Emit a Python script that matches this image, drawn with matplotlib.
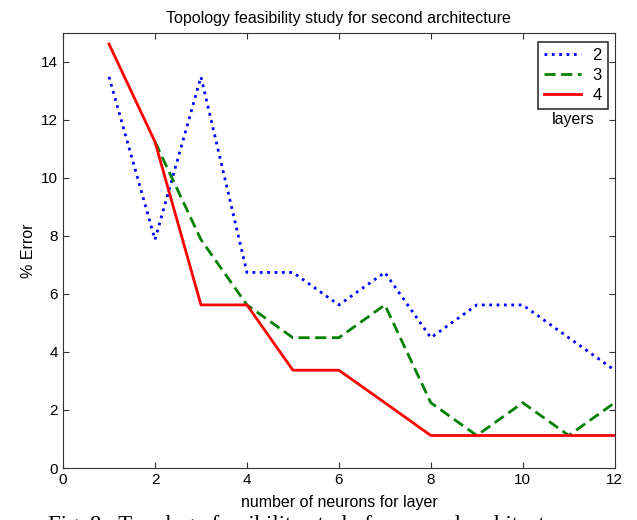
import numpy as np
import matplotlib
matplotlib.use("Agg")
import matplotlib.pyplot as plt

plt.rcParams['font.family'] = ['Liberation Sans', 'DejaVu Sans']

# % error per number of neurons, for 2, 3 and 4 layers
neurons_2 = [1, 2, 3, 4, 5, 6, 7, 8, 9, 10, 11, 12]
error_2 = [13.48, 7.87, 13.48, 6.74, 6.74, 5.62, 6.74, 4.49, 5.62, 5.62, 4.49, 3.37]
neurons_3 = [2, 3, 4, 5, 6, 7, 8, 9, 10, 11, 12]
error_3 = [11.24, 7.87, 5.62, 4.49, 4.49, 5.62, 2.25, 1.12, 2.25, 1.12, 2.25]
neurons_4 = [1, 2, 3, 4, 5, 6, 7, 8, 9, 10, 11, 12]
error_4 = [14.61, 11.24, 5.62, 5.62, 3.37, 3.37, 2.25, 1.12, 1.12, 1.12, 1.12, 1.12]

xticks = [0, 2, 4, 6, 8, 10, 12]
yticks = [0, 2, 4, 6, 8, 10, 12, 14]

fig = plt.figure(figsize=(6.37, 5.2), dpi=100)
ax = fig.add_axes([0.099, 0.1, 0.866, 0.837])

ax.plot(neurons_2, error_2, color="blue", linestyle=":", linewidth=2, label="2")
ax.plot(neurons_3, error_3, color="green", linestyle="--", linewidth=2, dashes=(4, 2), label="3")
ax.plot(neurons_4, error_4, color="red", linestyle="-", linewidth=2, label="4")

ax.set_xlim(0, 12)
ax.set_ylim(0, 15)
ax.set_xticks(xticks)
ax.set_yticks(yticks)
for s in ax.spines.values():
    s.set_color("#333333")
ax.tick_params(direction="in", top=True, right=True, labelsize=11, length=4, color="#333333")
ax.set_xlabel("number of neurons for layer", fontsize=11.5, labelpad=6)
ax.set_ylabel("% Error", fontsize=11.5, labelpad=4)
ax.set_title("Topology feasibility study for second architecture", fontsize=11.5, pad=7)

leg = ax.legend(loc="upper right", bbox_to_anchor=(0.987, 0.979), borderaxespad=0,
                fontsize=12, handlelength=2.2, fancybox=False, framealpha=1,
                edgecolor="#333333", borderpad=0.35, labelspacing=0.3, handletextpad=0.7)
leg.get_frame().set_linewidth(1.2)
ax.text(0.924, 0.8, "layers", transform=ax.transAxes, fontsize=11.5, ha="center", va="center")

fig.text(0.075, 1 - 515 / 520, "Fig. 8.  Topology feasibility study for second architecture",
         family=["Liberation Serif", "DejaVu Serif"], fontsize=16.5, va="top", ha="left")

fig.savefig("out.png", dpi=100)
